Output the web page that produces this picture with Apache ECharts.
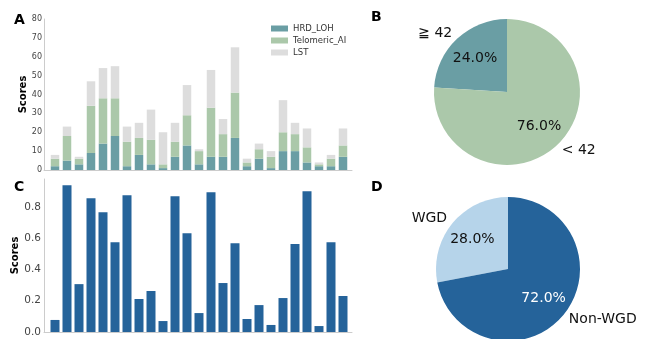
<!DOCTYPE html>
<html><head><meta charset="utf-8">
<script src="https://cdn.jsdelivr.net/npm/echarts@6/dist/echarts.min.js"></script>
<style>html,body{margin:0;padding:0;background:#fff}#c{width:646px;height:339px}</style>
</head><body><div id="c"></div>
<script>
const samples = Array.from({length:25},(_, i)=>'S'+(i+1));
const hrdLoh    = [2,5,3,9,14,18,2,8,3,1,7,13,3,7,7,17,2,6,1,10,10,4,2,2,7];
const telomeric = [4,13,3,25,24,20,13,9,13,2,8,16,7,26,12,24,2,5,6,10,9,8,1,4,6];
const lst       = [2,5,1,13,16,17,8,8,16,17,10,16,1,20,8,24,2,3,3,17,6,10,1,2,9];
const scoresC   = [0.077,0.938,0.306,0.855,0.766,0.574,0.874,0.211,0.262,0.070,0.868,0.632,0.121,0.894,0.313,0.568,0.083,0.172,0.045,0.217,0.562,0.900,0.038,0.574,0.230];
const yTicksA = [0,10,20,30,40,50,60,70,80];
const yTicksC = [0.0,0.2,0.4,0.6,0.8];
const pieB = [{name:'≧ 42', value:24},{name:'< 42', value:76}];
const pieD = [{name:'WGD', value:28},{name:'Non-WGD', value:72}];

const FONT = 'DejaVu Sans';
const cTeal = '#6a9ea4', cGreen = '#abc8aa', cGray = '#dddddd';
const cBlue = '#25639a', cLight = '#b6d4ea';
const maxA = yTicksA[yTicksA.length-1], maxC = 0.978;

const chart = echarts.init(document.getElementById('c'), null, {renderer:'canvas'});

function pieSeries(data, colors, center, R, pctColors){
  return [
    {type:'pie', center:center, radius:[0,R], startAngle:90, clockwise:false, silent:true,
     data:data.map((d,i)=>({name:d.name,value:d.value,itemStyle:{color:colors[i]}})),
     label:{show:true, position:'outside', formatter:'{b}', fontFamily:FONT, fontSize:14, color:'#111', distanceToLabelLine:0, overflow:'none', width:120},
     labelLine:{show:false, length:7, length2:0}, emphasis:{disabled:true}, animation:false},
    {type:'pie', center:center, radius:[0,R*1.2], startAngle:90, clockwise:false, silent:true, z:5,
     data:data.map((d,i)=>({name:d.name,value:d.value,itemStyle:{color:'rgba(0,0,0,0)'},
       label:{color:pctColors[i]}})),
     label:{show:true, position:'inside', formatter:p=>p.value.toFixed(1)+'%', fontFamily:FONT, fontSize:14},
     labelLine:{show:false}, emphasis:{disabled:true}, animation:false}
  ];
}

const axisLine = {show:true, lineStyle:{color:'#cccccc', width:1}};
const hidden = {axisLine:{show:false}, axisTick:{show:false}, axisLabel:{show:false}, splitLine:{show:false}};
const tStyle = {fontSize:14, fontWeight:'bold', color:'#000', fontFamily:FONT};
chart.setOption({
  animation:false,
  textStyle:{fontFamily:FONT},
  title:[
    {text:'A', left:9, top:8, textStyle:tStyle},
    {text:'C', left:9, top:175, textStyle:tStyle},
    {text:'B', left:366, top:5, textStyle:tStyle},
    {text:'D', left:366, top:175, textStyle:tStyle}
  ],
  legend:{data:['HRD_LOH','Telomeric_AI','LST'], orient:'vertical', left:266, top:19, itemWidth:17, itemHeight:6, itemGap:3,
    textStyle:{fontSize:8.5, color:'#333', fontFamily:FONT}, icon:'rect'},
  grid:[
    {left:44, top:19, width:308, height:151},
    {left:44, top:179, width:308, height:153},
    {left:49, top:19, width:300, height:151},
    {left:49, top:179, width:300, height:153}
  ],
  xAxis:[
    {gridIndex:0, type:'value', min:0, max:1, axisLine:axisLine, axisTick:{show:false}, axisLabel:{show:false}, splitLine:{show:false}},
    {gridIndex:1, type:'value', min:0, max:1, axisLine:axisLine, axisTick:{show:false}, axisLabel:{show:false}, splitLine:{show:false}},
    {gridIndex:2, type:'category', data:samples, ...hidden},
    {gridIndex:3, type:'category', data:samples, ...hidden}
  ],
  yAxis:[
    {gridIndex:0, type:'value', min:yTicksA[0], max:maxA, interval:10, axisLine:axisLine, axisTick:{show:false},
     splitLine:{show:false}, axisLabel:{fontSize:8, color:'#444', margin:2, fontFamily:FONT},
     name:'Scores', nameLocation:'middle', nameGap:15, nameTextStyle:{fontSize:10, fontWeight:'bold', color:'#000', fontFamily:FONT}},
    {gridIndex:1, type:'value', min:0, max:maxC, interval:0.2, axisLine:axisLine, axisTick:{show:false},
     splitLine:{show:false}, axisLabel:{fontSize:10.5, color:'#444', margin:3, fontFamily:FONT, formatter:v=>yTicksC.includes(Math.round(v*10)/10)?v.toFixed(1):''},
     name:'Scores', nameLocation:'middle', nameGap:22, nameTextStyle:{fontSize:10, fontWeight:'bold', color:'#000', fontFamily:FONT}},
    {gridIndex:2, type:'value', min:yTicksA[0], max:maxA, ...hidden},
    {gridIndex:3, type:'value', min:0, max:maxC, ...hidden}
  ],
  series:[
    {name:'HRD_LOH', type:'bar', stack:'a', xAxisIndex:2, yAxisIndex:2, barWidth:8.5, data:hrdLoh, itemStyle:{color:cTeal}},
    {name:'Telomeric_AI', type:'bar', stack:'a', xAxisIndex:2, yAxisIndex:2, barWidth:8.5, data:telomeric, itemStyle:{color:cGreen}},
    {name:'LST', type:'bar', stack:'a', xAxisIndex:2, yAxisIndex:2, barWidth:8.5, data:lst, itemStyle:{color:cGray}},
    {name:'C', type:'bar', xAxisIndex:3, yAxisIndex:3, barWidth:9, data:scoresC, itemStyle:{color:cBlue}},
    ...pieSeries(pieB, [cTeal, cGreen], [507, 92], 73, ['#111','#111']),
    ...pieSeries(pieD, [cLight, cBlue], [508, 269], 72, ['#111','#ffffff'])
  ]
});
</script></body></html>
